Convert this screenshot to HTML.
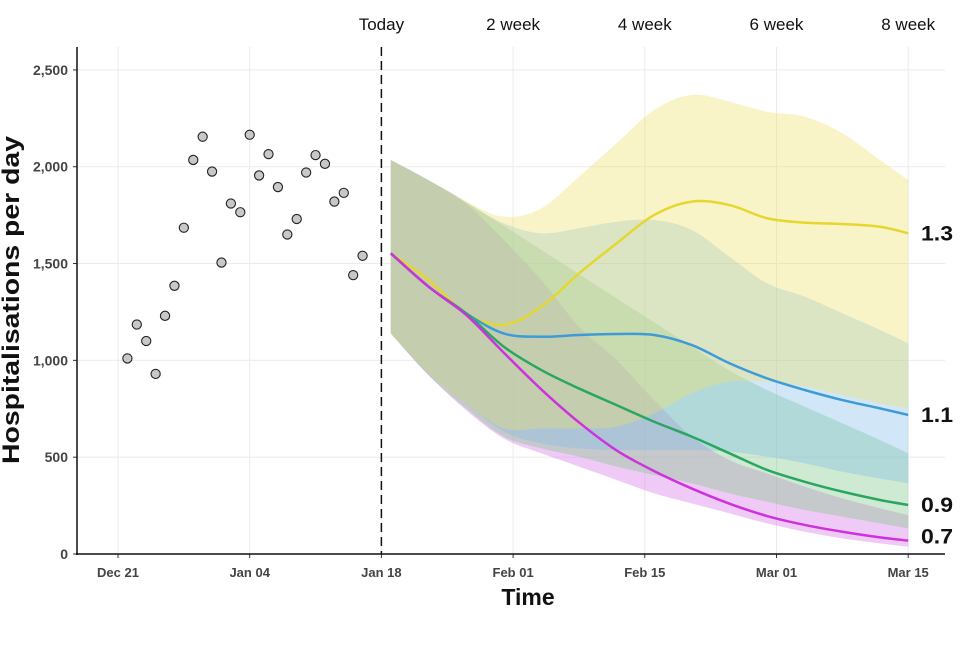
<!DOCTYPE html>
<html><head><meta charset="utf-8"><style>
body{margin:0;background:#fff;}
svg text{font-family:"Liberation Sans",Arial,sans-serif;}
</style></head><body>
<svg id="chart" width="960" height="640" xmlns="http://www.w3.org/2000/svg">
<g id="grid"></g>
<g id="bands"></g>
<g id="lines"></g>
<g id="points"></g>
<g id="axes"></g>
</svg>
<script>
const obsDays=[1,2,3,4,5,6,7,8,9,10,11,12,13,14,15,16,17,18,19,20,21,22,23,24,25,26];
const obsValues=[1010,1185,1100,930,1230,1385,1685,2035,2155,1975,1505,1810,1765,2165,1955,2065,1895,1650,1730,1970,2060,2015,1820,1865,1440,1540];
const projDays=[29,33,37,41,45,49,53,57,61,65,69,73,77,81,84];
const yellowMid=[1553,1415,1243,1183,1277,1449,1604,1751,1820,1802,1734,1711,1704,1690,1656];
const yellowHi=[2035,1931,1820,1742,1785,1949,2121,2293,2371,2336,2284,2259,2173,2035,1931];
const yellowLo=[1139,933,778,649,649,649,657,726,830,890,890,864,821,778,752];
const blueMid=[1553,1381,1243,1139,1122,1131,1136,1131,1079,985,907,847,795,752,718];
const blueHi=[2035,1931,1811,1708,1656,1682,1716,1725,1673,1535,1398,1329,1243,1157,1088];
const blueLo=[1139,933,778,632,571,545,537,537,537,528,503,468,425,390,365];
const greenMid=[1553,1381,1243,1071,950,855,769,683,606,520,434,373,322,279,253];
const greenHi=[2035,1931,1820,1696,1570,1446,1320,1196,1071,947,847,761,675,589,520];
const greenLo=[1139,924,752,606,545,503,451,408,365,313,270,227,193,158,132];
const pinkMid=[1553,1381,1235,1040,850,680,535,428,338,260,196,150,115,86,69];
const pinkHi=[2035,1931,1811,1622,1415,1174,1002,795,606,485,416,348,287,236,201];
const pinkLo=[1139,924,743,597,520,451,382,313,261,210,158,115,81,55,38];
const yTicks=[0,500,1000,1500,2000,2500];
const yTickLabels=["0","500","1,000","1,500","2,000","2,500"];
const xTickDays=[0,14,28,42,56,70,84];
const xTickLabels=["Dec 21","Jan 04","Jan 18","Feb 01","Feb 15","Mar 01","Mar 15"];
const topLabels=["Today","2 week","4 week","6 week","8 week"];
const topDays=[28,42,56,70,84];
const seriesNames=["1.3","1.1","0.9","0.7"];

const NS="http://www.w3.org/2000/svg";
const X=d=>118+d*9.4071;
const Y=v=>554-v*0.19364;
function mk(parent,tag,attrs,text){const e=document.createElementNS(NS,tag);for(const k in attrs)e.setAttribute(k,attrs[k]);if(text!==undefined)e.textContent=text;document.getElementById(parent).appendChild(e);return e;}
function smooth(pts,start){
  let d=(start?'M':'L')+pts[0][0]+','+pts[0][1];
  for(let i=0;i<pts.length-1;i++){
    const p0=pts[i-1]||pts[i],p1=pts[i],p2=pts[i+1],p3=pts[i+2]||p2;
    const c1x=p1[0]+(p2[0]-p0[0])/6,c1y=p1[1]+(p2[1]-p0[1])/6;
    const c2x=p2[0]-(p3[0]-p1[0])/6,c2y=p2[1]-(p3[1]-p1[1])/6;
    d+='C'+c1x+','+c1y+' '+c2x+','+c2y+' '+p2[0]+','+p2[1];
  }
  return d;
}

yTicks.forEach((v,i)=>{
  const g=mk('grid','line',{x1:77,x2:945,y1:Y(v),y2:Y(v),stroke:'#ebebeb','stroke-width':1});
  
  
  const t=mk('axes','text',{x:68,y:Y(v)+5,'text-anchor':'end','font-size':14,'font-weight':'bold',fill:'#444'},yTickLabels[i]);
  
  
  const tk=mk('axes','line',{x1:73,x2:77,y1:Y(v),y2:Y(v),stroke:'#333'});
  
  
});
xTickDays.forEach((d,i)=>{
  const g=mk('grid','line',{x1:X(d),x2:X(d),y1:47,y2:554,stroke:'#ebebeb','stroke-width':1});
  
  
  const t=mk('axes','text',{x:X(d),y:577,'text-anchor':'middle','font-size':13,'font-weight':'bold',fill:'#444'},xTickLabels[i]);
  
  
  const tk=mk('axes','line',{x1:X(d),x2:X(d),y1:554,y2:558,stroke:'#333'});
  
  
});

function band(hi,lo,color,op,name){
  const top=projDays.map((x,i)=>[X(x),Y(hi[i])]);
  const bot=projDays.map((x,i)=>[X(x),Y(lo[i])]).reverse();
  const d=smooth(top,true)+smooth(bot,false)+'Z';
  const p=mk('bands','path',{d:d,fill:color,'fill-opacity':op,stroke:'none'});
  
  
}
function line(mid,color,name){
  const pts=projDays.map((x,i)=>[X(x),Y(mid[i])]);
  const p=mk('lines','path',{d:smooth(pts,true),fill:'none',stroke:color,'stroke-width':2.5,'stroke-linejoin':'round'});
  
  
}
band(pinkHi,pinkLo,'#dc80ea',0.42,'band-0-7');
band(greenHi,greenLo,'#80c98a',0.38,'band-0-9');
band(blueHi,blueLo,'#7fbde8',0.36,'band-1-1');
band(yellowHi,yellowLo,'#eee066',0.36,'band-1-3');
line(yellowMid,'#e6d72e','line-1-3');
line(blueMid,'#3d9bd8','line-1-1');
line(greenMid,'#2aa663','line-0-9');
line(pinkMid,'#cc33dd','line-0-7');

const mids=[yellowMid,blueMid,greenMid,pinkMid];
const offs=[7,7,7,3];
mids.forEach((m,i)=>{
  const t=mk('axes','text',{x:921,y:Y(m[m.length-1])+offs[i],'font-size':21,'font-weight':'bold',fill:'#111',textLength:32,lengthAdjust:'spacingAndGlyphs'},seriesNames[i]);
  
  
});

obsDays.forEach((d,i)=>{
  const c=mk('points','circle',{cx:X(d),cy:Y(obsValues[i]),r:4.6,fill:'#c8c8c8',stroke:'#222','stroke-width':1.1});
  
  
});

const dl=mk('axes','line',{x1:X(28),x2:X(28),y1:47,y2:554,stroke:'#111','stroke-width':1.5,'stroke-dasharray':'9,5'});


topDays.forEach((d,i)=>{
  const t=mk('axes','text',{x:X(d),y:30,'text-anchor':'middle','font-size':17,fill:'#111'},topLabels[i]);
  
  
});
const ya=mk('axes','line',{x1:77,x2:77,y1:47,y2:555,stroke:'#111','stroke-width':1.5});


const xa=mk('axes','line',{x1:76,x2:945,y1:554,y2:554,stroke:'#111','stroke-width':1.5});


const xt=mk('axes','text',{x:528,y:605,'text-anchor':'middle','font-size':23,'font-weight':'bold',fill:'#111'},'Time');


const yt=mk('axes','text',{x:0,y:0,'text-anchor':'middle','font-size':24,'font-weight':'bold',fill:'#111',textLength:328,lengthAdjust:'spacingAndGlyphs',transform:'translate(19,300) rotate(-90)'},'Hospitalisations per day');


</script>
</body></html>
